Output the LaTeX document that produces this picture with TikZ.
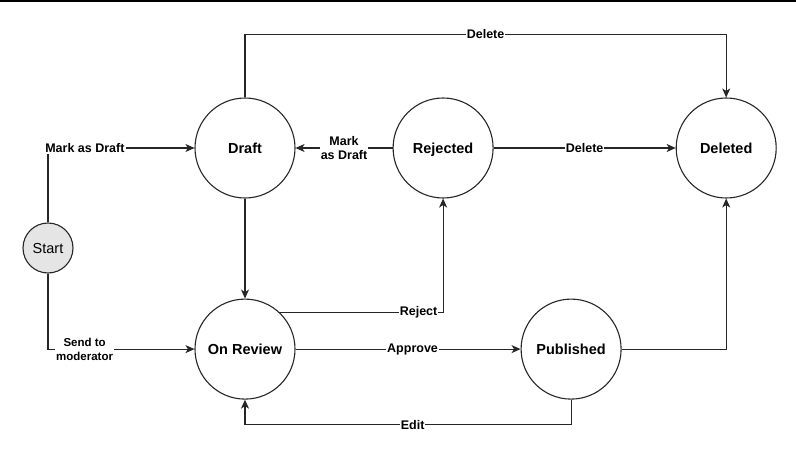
\documentclass[tikz,border=0pt]{standalone}
\usepackage{fontspec}
\setmainfont{Liberation Sans}
\usetikzlibrary{positioning,arrows.meta,calc}

\begin{document}
\begin{tikzpicture}[x=1pt,y=-1pt, status/.style = {circle,draw=black!85,line width=1.1pt,minimum size=100pt,inner sep=0pt,text depth=0pt},
		startstatus/.style = {circle,draw=black!85,line width=1.1pt,fill=black!10,minimum size=50pt,inner sep=0pt,text depth=0pt},
		move/.style = {draw=black!85,line width=1.1pt,-{Stealth[length=9pt,width=8pt,inset=2.5pt]}}, movetext/.style = {fill=white,inner sep=1pt} ]
    \tikzset{status/.append style={font=\fontsize{14.5}{17}\selectfont\bfseries}, startstatus/.append style={font=\fontsize{14.5}{17}\selectfont}}
    \tikzset{movetext/.append style={font=\fontsize{12.5}{14}\selectfont\bfseries,align=center}}
    \useasboundingbox (0,0) rectangle (796,455);
    \draw [line width=1.5pt] (0,0.75) -- (796,0.75);
    \node [startstatus] (start) at (48,248) {Start};
    \node [status] (draft) at (245,148) {Draft};
    \node [status,right=97pt of draft] (rejected) {Rejected};
    \node [status,right=182pt of rejected] (deleted) {Deleted};
    \node [status,below=100pt of draft] (review) {On Review};
    \node [status,right=225pt of review] (published) {Published};
    \path [move] (start.north) |- node [movetext,pos=0.626] {Mark as Draft} (draft.west);
    \path [move] (start.south) |- node [movetext,pos=0.625,font=\fontsize{11.5}{14}\selectfont\bfseries] {Send to\\moderator} (review.west);
    \path [move] (draft.north) -- ++(0,-63) -| node [movetext,pos=0.25] {Delete} (deleted.north);
    \path [move] (rejected) -- node [movetext] {Mark\\as Draft} (draft);
    \path [move] (rejected) -- node [movetext] {Delete} (deleted);
    \path [move] (draft) -- (review);
    \path [move] (review.47) -| node [movetext,pos=0.425] {Reject} (rejected.south);
    \path [move] (review) -- node [movetext,pos=0.52] {Approve} (published);
    \path [move] (published.east) -| (deleted.south);
    \path [move] (published.south) -- ++(0,25) -| node [movetext,pos=0.243] {Edit} (review.south);
  \end{tikzpicture}
\end{document}
